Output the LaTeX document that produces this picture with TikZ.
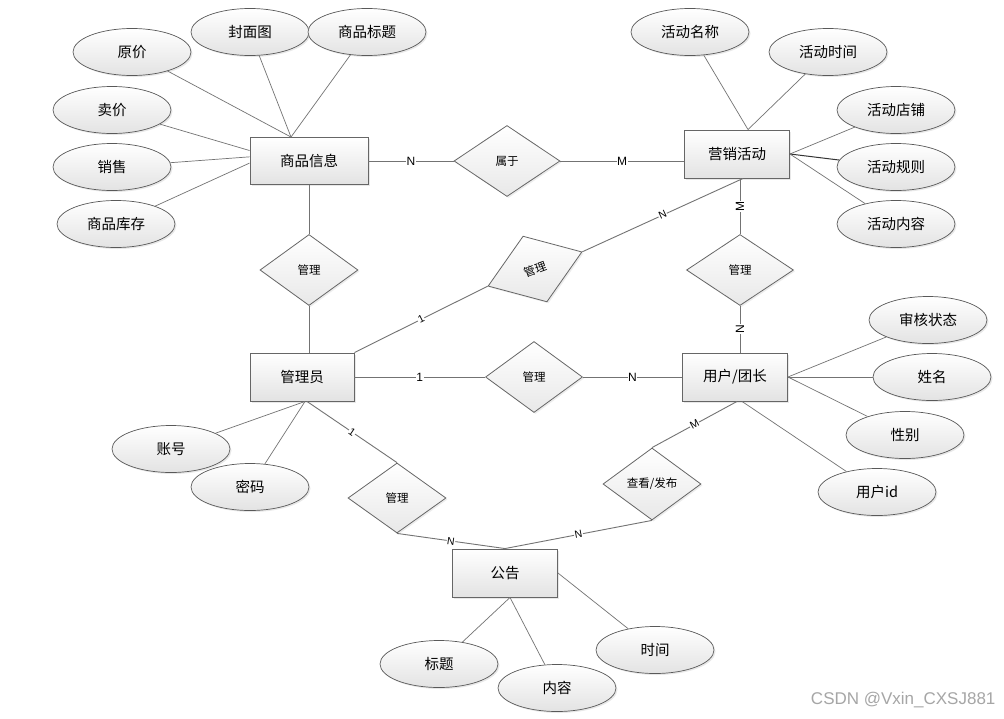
\documentclass[tikz,border=0pt]{standalone}
\usepackage{fontspec}
\setmainfont{Noto Sans CJK SC}
\newfontfamily\labfont{Liberation Sans}
\usetikzlibrary{shapes.geometric,shadows,positioning}
\tikzstyle{attr} = [ellipse, minimum width=118pt, minimum height=47pt, inner sep=0pt, draw=black!65, line width=0.7pt, top color=white, bottom color=black!11, drop shadow={shadow xshift=1.5pt, shadow yshift=-1.5pt, opacity=0.18}, font=\fontsize{14.5}{17}\selectfont]
\tikzstyle{entity} = [rectangle, minimum width=105pt, minimum height=48pt, inner sep=0pt, draw=black!60, line width=0.9pt, top color=white, bottom color=black!11, drop shadow={shadow xshift=1.5pt, shadow yshift=-1.5pt, opacity=0.18}, font=\fontsize{14.5}{17}\selectfont]
\tikzstyle{rel} = [diamond, minimum width=98pt, minimum height=71pt, inner sep=0pt, draw=black!60, line width=0.8pt, top color=white, bottom color=black!9, drop shadow={shadow xshift=1.5pt, shadow yshift=-1.5pt, opacity=0.15}, font=\fontsize{11.5}{13}\selectfont]
\tikzstyle{link} = [draw=black!55, line width=0.9pt]
\tikzstyle{card} = [fill=white, inner sep=0.6pt, font=\labfont\fontsize{12}{12}\selectfont]
\tikzstyle{cards} = [card, sloped, font=\labfont\fontsize{10.5}{10.5}\selectfont]

\begin{document}
\begin{tikzpicture}[x=1pt, y=-1pt]
  \useasboundingbox[fill=white] (0,0) rectangle (1004,718);
  %实体
  \node[entity, minimum width=118pt, minimum height=47pt](goods) at (309,161){商品信息};
  \node[entity](activity) at (737,154){营销活动};
  \node[entity, minimum width=104pt](admin) at (302,377){管理员};
  \node[entity](user) at (735,377){用户/团长};
  \node[entity](notice) at (505,573){公告};
  %联系
  \node[rel, minimum width=106pt](belong) at (507,161){属于};
  \node[rel](mgoods) at (309,270){管理};
  \node[rel, minimum width=100pt, minimum height=70pt, rotate=20](mact) at (535,269){管理};
  \node[rel, minimum width=97pt](muser) at (534,377){管理};
  \node[rel, minimum width=107pt](mua) at (740,270){管理};
  \node[rel, minimum height=70pt](mnotice) at (397,498){管理};
  \node[rel, minimum height=72pt](view) at (652,484){查看/发布};
  %属性
  \node[attr](yuanjia) at (132,52){原价};
  \node[attr](fengmian) at (250,32){封面图};
  \node[attr](biaoti) at (367,32){商品标题};
  \node[attr](maijia) at (112,110){卖价};
  \node[attr](xiaoshou) at (112,167){销售};
  \node[attr](kucun) at (116,224){商品库存};
  \node[attr](hdname) at (690,32){活动名称};
  \node[attr](hdtime) at (828,52){活动时间};
  \node[attr](hdshop) at (896,110){活动店铺};
  \node[attr](hdrule) at (896,167){活动规则};
  \node[attr](hdtext) at (896,224){活动内容};
  \node[attr](shenhe) at (928,320){审核状态};
  \node[attr](xingming) at (932,377){姓名};
  \node[attr](xingbie) at (905,435){性别};
  \node[attr](userid) at (877,492){用户id};
  \node[attr](zhanghao) at (171,449){账号};
  \node[attr](mima) at (250,487){密码};
  \node[attr](ggtitle) at (439,664){标题};
  \node[attr](ggtext) at (557,688){内容};
  \node[attr](ggtime) at (655,650){时间};
  %属性连线
  \draw[link, line width=0.7pt] (yuanjia) -- ([xshift=-18pt]goods.north);
  \draw[link, line width=0.7pt] (fengmian) -- ([xshift=-18pt]goods.north);
  \draw[link, line width=0.7pt] (biaoti) -- ([xshift=-18pt]goods.north);
  \draw[link, line width=0.7pt] (maijia) -- (goods.170);
  \draw[link, line width=0.7pt] (xiaoshou) -- (goods.176);
  \draw[link, line width=0.7pt] (kucun) -- (goods.182);
  \draw[link, line width=0.7pt] (hdname) -- ([xshift=11pt]activity.north);
  \draw[link, line width=0.7pt] (hdtime) -- ([xshift=11pt]activity.north);
  \draw[link, line width=0.7pt] (hdshop) -- (activity.east);
  \draw[link, line width=1pt, draw=black!80] (hdrule) -- (activity.east);
  \draw[link, line width=0.7pt] (hdtext) -- (activity.east);
  \draw[link, line width=0.7pt] (shenhe) -- (user.east);
  \draw[link, line width=0.7pt] (xingming) -- (user.east);
  \draw[link, line width=0.7pt] (xingbie) -- (user.east);
  \draw[link, line width=0.7pt] (userid) -- ([xshift=7pt]user.south);
  \draw[link, line width=0.7pt] (zhanghao) -- ([xshift=3pt]admin.south);
  \draw[link, line width=0.7pt] (mima) -- ([xshift=3pt]admin.south);
  \draw[link, line width=0.7pt] (ggtitle) -- ([xshift=5pt]notice.south);
  \draw[link, line width=0.7pt] (ggtext) -- ([xshift=5pt]notice.south);
  \draw[link, line width=0.7pt] (ggtime) -- (notice.east);
  %联系连线
  \draw[link] (goods) -- node[card]{N} (belong);
  \draw[link] (belong.east) -- node[card]{M} (belong.east -| activity.west);
  \draw[link] (goods.south) -- (mgoods.north);
  \draw[link] (mgoods.south) -- ([xshift=7pt]admin.north);
  \draw[link] (admin.north east) -- node[cards]{1} (mact.west);
  \draw[link] (mact.east) -- node[cards]{N} ([xshift=6pt]activity.south);
  \draw[link] ([xshift=3pt]activity.south) -- node[card, rotate=90]{M} (mua.north);
  \draw[link] (mua.south) -- node[card, rotate=90]{N} ([xshift=5pt]user.north);
  \draw[link] (admin.east) -- node[card]{1} (muser.west);
  \draw[link] (muser.east) -- node[card]{N} (user.west);
  \draw[link] ([xshift=5pt]admin.south) -- node[cards]{1} (mnotice.north);
  \draw[link] (mnotice.south) -- node[cards]{N} (notice.north);
  \draw[link] ([xshift=2pt]user.south) -- node[cards]{M} (view.north);
  \draw[link] (view.south) -- node[cards]{N} (notice.north);
  \node[anchor=east, text=black!35, font=\labfont\fontsize{17}{17}\selectfont](mark) at (999,700){CSDN @Vxin\_CXSJ881};
\end{tikzpicture}
\end{document}
